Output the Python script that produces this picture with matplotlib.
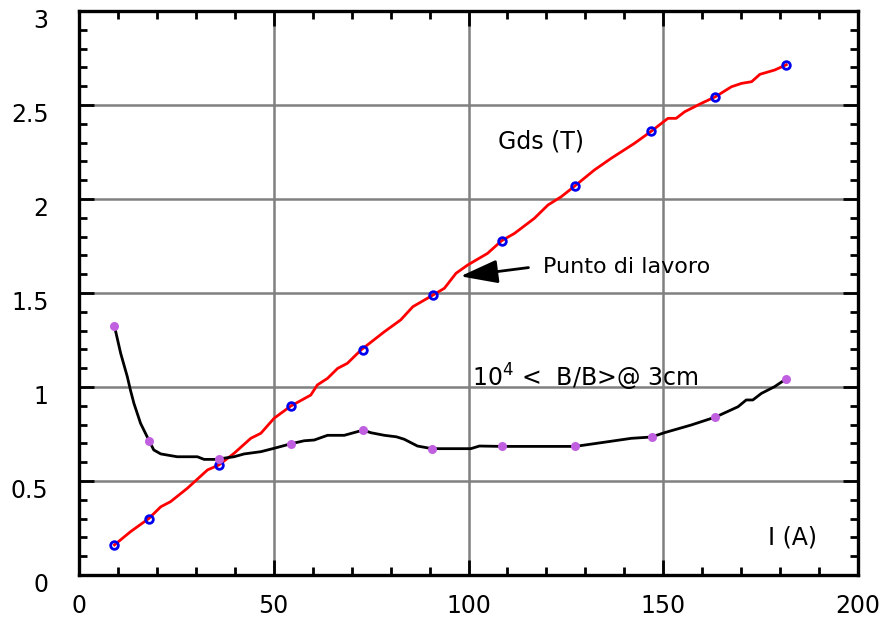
import numpy as np
import matplotlib.pyplot as plt
import matplotlib.transforms as mtransforms
from matplotlib.ticker import MultipleLocator

# Gds (T) curve
gds_x = [9.1, 13.2, 17.9, 21.0, 23.5, 27.8, 33.0, 35.9, 39.8, 44.1, 46.7, 50.1, 54.4,
         59.5, 61.2, 63.8, 66.4, 68.9, 72.4, 78.4, 82.6, 85.7, 90.8, 93.8, 96.8, 99.8,
         104.9, 108.5, 111.8, 116.9, 120.4, 123.8, 127.4, 132.3, 136.6, 142.6, 146.9,
         151.2, 153.3, 155.5, 159.8, 163.4, 167.5, 170.1, 172.7, 174.8, 178.6, 181.6]
gds_y = [0.16, 0.23, 0.30, 0.363, 0.39, 0.461, 0.559, 0.585, 0.647, 0.727, 0.754, 0.834,
         0.899, 0.957, 1.011, 1.046, 1.099, 1.126, 1.197, 1.294, 1.357, 1.427, 1.488, 1.525,
         1.605, 1.649, 1.711, 1.778, 1.817, 1.897, 1.968, 2.012, 2.071, 2.154, 2.216, 2.296,
         2.360, 2.429, 2.429, 2.464, 2.509, 2.544, 2.597, 2.615, 2.624, 2.663, 2.686, 2.714]
gds_mx = [9.1, 17.9, 35.9, 54.4, 73.0, 90.8, 108.5, 127.4, 146.9, 163.4, 181.6]
gds_my = [0.16, 0.30, 0.585, 0.90, 1.195, 1.488, 1.778, 2.071, 2.36, 2.544, 2.714]

# 10^4 <dB/B> @ 3cm curve
hom_x = [9.1, 10.7, 12.4, 13.2, 14.1, 15.8, 18.0, 19.2, 21.0, 25.2, 30.4, 32.1, 35.1,
         39.8, 42.4, 46.7, 50.1, 54.4, 57.8, 60.4, 63.8, 68.1, 73.0, 74.9, 78.4, 81.5,
         83.5, 86.9, 90.6, 100.6, 102.8, 108.6, 127.4, 135.8, 141.8, 147.0, 150.3, 157.2,
         163.4, 169.2, 171.3, 173.0, 175.2, 178.6, 181.4]
hom_y = [1.324, 1.179, 1.055, 0.984, 0.913, 0.807, 0.714, 0.665, 0.644, 0.629, 0.629,
         0.615, 0.615, 0.629, 0.644, 0.656, 0.674, 0.698, 0.714, 0.718, 0.743, 0.743, 0.771,
         0.757, 0.743, 0.735, 0.722, 0.686, 0.672, 0.672, 0.686, 0.684, 0.684, 0.709, 0.727,
         0.734, 0.757, 0.798, 0.840, 0.895, 0.931, 0.931, 0.966, 1.002, 1.041]
hom_mx = [9.1, 18.0, 35.9, 54.4, 73.0, 90.6, 108.6, 127.4, 147.0, 163.4, 181.4]
hom_my = [1.324, 0.714, 0.615, 0.698, 0.771, 0.672, 0.684, 0.684, 0.734, 0.840, 1.041]

y_ticks = [0, 0.5, 1, 1.5, 2, 2.5, 3]
y_labels = ['0', '0.5', '1', '1.5', '2', '2.5', '3']

plt.rcParams['font.family'] = 'DejaVu Sans'

fig = plt.figure(figsize=(8.88, 6.19), dpi=100)
ax = fig.add_axes([79 / 888, 44 / 619, 779 / 888, 564 / 619])

ax.plot(gds_x, gds_y, color='red', lw=2.0, zorder=3)
ax.plot(gds_mx, gds_my, 'o', ms=5.5, mfc='none', mec='#0000ee', mew=2.0, zorder=4)
ax.plot(hom_x, hom_y, color='black', lw=2.0, zorder=3)
ax.plot(hom_mx, hom_my, 'o', ms=6.5, color='#c060e0', mec='none', zorder=4)

ax.set_xlim(0, 200)
ax.set_ylim(0, 3)
ax.xaxis.set_major_locator(MultipleLocator(50))
ax.xaxis.set_minor_locator(MultipleLocator(10))
ax.yaxis.set_minor_locator(MultipleLocator(0.1))
ax.set_yticks(y_ticks)
ax.set_yticklabels(y_labels)
ax.grid(True, which='major', color='#808080', lw=1.8)
ax.set_axisbelow(True)
ax.tick_params(which='both', direction='in', top=True, right=True, width=2.0, colors='black')
ax.tick_params(which='major', length=11, labelsize=17)
ax.tick_params(which='minor', length=6)
ax.tick_params(axis='x', which='major', pad=14)
ax.tick_params(axis='y', which='major', pad=22)
for s in ax.spines.values():
    s.set_linewidth(2.4)

# y tick labels sit a little below their ticks in the original
shift = mtransforms.ScaledTranslation(0, -8 / 100, fig.dpi_scale_trans)
for lab in ax.get_yticklabels():
    lab.set_transform(lab.get_transform() + shift)

ax.text(107.5, 2.305, 'Gds (T)', fontsize=17, va='center', ha='left')
ax.text(119.1, 1.64, 'Punto di lavoro', fontsize=16, va='center', ha='left')
ax.annotate('', xy=(97.2, 1.587), xytext=(116.1, 1.637),
            arrowprops=dict(arrowstyle='-|>,head_length=1.15,head_width=0.36',
                            mutation_scale=20, color='black', lw=2.0))
ax.text(100.9, 1.0, r'10$^4$ <  B/B>@ 3cm', fontsize=17, va='baseline', ha='left')
ax.text(183.3, 0.20, 'I (A)', fontsize=17, va='center', ha='center')

fig.savefig('out.png', dpi=100)
